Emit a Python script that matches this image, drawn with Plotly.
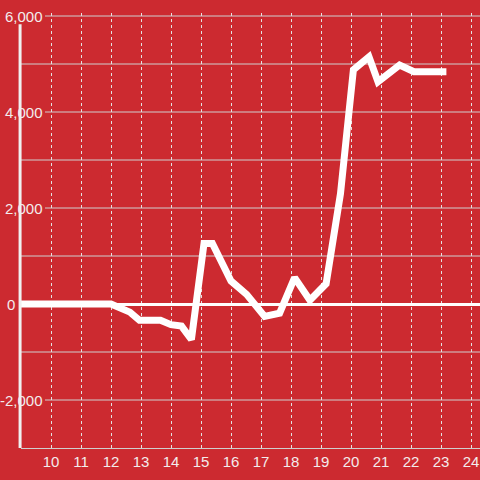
import plotly.graph_objects as go

# ---- data ----
hours = [9, 10, 11, 12, 12.63, 12.95, 13.65, 14.0, 14.35, 14.68, 15.1, 15.38,
         16.0, 16.52, 17.12, 17.62, 18.12, 18.63, 19.17, 19.65, 20.08, 20.6,
         20.9, 21.62, 22.1, 23.18]
values = [0, 0, 0, 0, -170, -340, -340, -430, -460, -740, 1260, 1260,
          480, 200, -260, -190, 550, 80, 420, 2300, 4880, 5150,
          4630, 4980, 4840, 4840]

x_ticks = list(range(10, 25))
x_tick_labels = [str(t) for t in x_ticks]
y_major = [6000, 4000, 2000, -2000]
y_minor = [5000, 3000, 1000, -1000]
y_zero_label = "0"

# ---- styling ----
BG = "#cc2a30"
TXT = "#f3ecec"
GRID = "#cfcfcf"
FONT = "Liberation Sans, Arial, sans-serif"

fig = go.Figure()
fig.add_trace(go.Scatter(
    x=hours, y=values, mode="lines",
    line=dict(color="#ffffff", width=7),
    hoverinfo="skip", showlegend=False,
))

PLOT_L = 21
PLOT_W = 480 - PLOT_L


def px_to_paper(px):
    return (px - PLOT_L) / PLOT_W


shapes = []
for v in y_minor:
    shapes.append(dict(type="line", xref="paper", yref="y", x0=0, x1=1, y0=v, y1=v,
                       line=dict(color=GRID, width=1), layer="below"))
for v in y_major:
    shapes.append(dict(type="line", xref="paper", yref="y", x0=px_to_paper(45), x1=1,
                       y0=v, y1=v, line=dict(color=GRID, width=1), layer="below"))
# y axis line
shapes.append(dict(type="line", xref="paper", yref="y", x0=-0.002, x1=-0.002,
                   y0=-3000, y1=5830, line=dict(color="#f0f0f0", width=3), layer="above"))

annotations = []
for v in y_major:
    annotations.append(dict(xref="paper", yref="y", x=px_to_paper(45), y=v,
                            text=f"{v:,}", xanchor="right", yanchor="middle",
                            showarrow=False, font=dict(family=FONT, size=15, color=TXT)))
annotations.append(dict(xref="paper", yref="y", x=px_to_paper(17), y=0,
                        text=y_zero_label, xanchor="right", yanchor="middle",
                        showarrow=False, font=dict(family=FONT, size=15, color=TXT)))

fig.update_layout(
    width=480, height=480,
    margin=dict(l=PLOT_L, r=0, t=13, b=32, pad=0),
    paper_bgcolor=BG, plot_bgcolor=BG,
    font=dict(family=FONT, size=15, color=TXT),
    shapes=shapes, annotations=annotations,
    xaxis=dict(
        range=[9, 9 + PLOT_W / 30.0],
        tickvals=x_ticks, ticktext=x_tick_labels,
        showgrid=True, gridcolor="#e2e2e2", griddash="dot", gridwidth=1,
        showline=True, linecolor=GRID, linewidth=1,
        zeroline=False, ticks="", fixedrange=True,
        tickfont=dict(family=FONT, size=15, color=TXT),
    ),
    yaxis=dict(
        range=[-3000, 6062.5],
        showgrid=False, showticklabels=False, showline=False,
        zeroline=True, zerolinecolor="#ffffff", zerolinewidth=3,
        ticks="", fixedrange=True,
    ),
)

fig.write_html(
    "out.html",
    config={"displayModeBar": False, "staticPlot": True},
    post_script="document.body.style.margin='0';document.body.style.overflow='hidden';",
)
